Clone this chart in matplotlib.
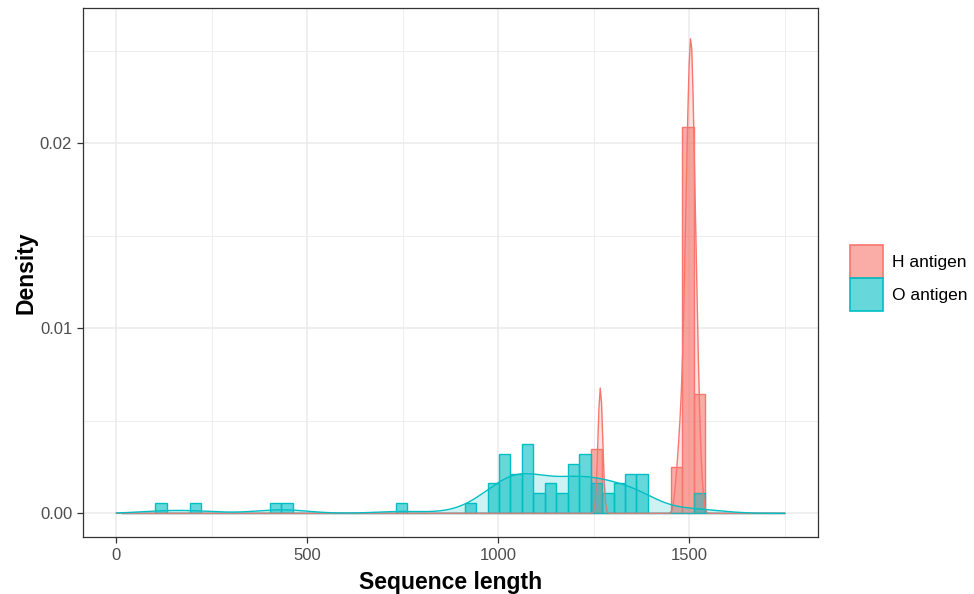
import numpy as np
import matplotlib
matplotlib.use("Agg")
import matplotlib.pyplot as plt
from matplotlib.colors import to_rgba
from matplotlib.patches import Patch

plt.rcParams['font.family'] = ['Liberation Sans', 'DejaVu Sans']

# sequence lengths per antigen type
groups = ["H antigen", "O antigen"]
colors = ["#F8766D", "#00BFC4"]

h_lengths = [
    1264, 1266, 1267, 1267, 1268, 1269, 1271,
    1466, 1472, 1476, 1478, 1481,
    1483, 1485, 1487, 1488, 1490, 1490, 1491, 1492, 1493, 1494,
    1494, 1495, 1496, 1496, 1497, 1498, 1498, 1499, 1500, 1500,
    1501, 1502, 1502, 1503, 1503, 1504, 1504, 1504, 1505, 1505,
    1506, 1506, 1507, 1508, 1508, 1509, 1509, 1510, 1510, 1511,
    1511, 1511,
    1513, 1514, 1515, 1516, 1517, 1518, 1519, 1520, 1521, 1522,
    1524, 1527, 1532,
]

o_lengths = [
    118, 207, 417, 447, 747, 927,
    978, 987, 995,
    1005, 1011, 1017, 1020, 1024, 1029,
    1038, 1044, 1051, 1058,
    1064, 1068, 1072, 1077, 1080, 1085, 1089,
    1098, 1112,
    1128, 1137, 1146,
    1160, 1174,
    1185, 1191, 1197, 1203, 1209,
    1215, 1220, 1226, 1230, 1234, 1239,
    1248, 1256, 1265,
    1280, 1293,
    1308, 1317, 1326,
    1336, 1343, 1350, 1357,
    1366, 1373, 1380, 1387,
    1518, 1527,
]

x_ticks = [0, 500, 1000, 1500]
x_minor = [250, 750, 1250, 1750]
y_ticks = [0.00, 0.01, 0.02]
y_tick_labels = ["0.00", "0.01", "0.02"]
y_minor = [0.005, 0.015, 0.025]

bin_width = 30
bin_start = 12
x_range = (0, 1750)


def nrd0(x):
    # Silverman's rule of thumb, same as R's bw.nrd0
    x = np.asarray(x, dtype=float)
    sd = x.std(ddof=1)
    q75, q25 = np.percentile(x, [75, 25])
    lo = min(sd, (q75 - q25) / 1.34)
    return 0.9 * lo * len(x) ** -0.2


def kde(x, grid):
    x = np.asarray(x, dtype=float)
    bw = nrd0(x)
    z = (grid[:, None] - x[None, :]) / bw
    return np.exp(-0.5 * z ** 2).sum(axis=1) / (len(x) * bw * np.sqrt(2 * np.pi))


data = [h_lengths, o_lengths]
edges = np.arange(bin_start, x_range[1] + bin_width, bin_width)
grid = np.linspace(x_range[0], x_range[1], 512)

fig = plt.figure(figsize=(9.74, 5.94), dpi=100)
ax = fig.add_axes([83 / 974, 57 / 594, 735 / 974, 529 / 594])

for values, color in zip(data, colors):
    ax.hist(values, bins=edges, density=True,
            facecolor=to_rgba(color, 0.6), edgecolor=color,
            linewidth=1.0, zorder=2)

for values, color in zip(data, colors):
    dens = kde(values, grid)
    ax.fill_between(grid, dens, color=color, alpha=0.2, linewidth=0, zorder=3)
    ax.plot(grid, dens, color=color, linewidth=1.0, zorder=3)

ax.set_xlim(-87.5, 1837.5)
ax.set_ylim(-0.00128, 0.0273)

ax.set_xticks(x_ticks)
ax.set_xticks(x_minor, minor=True)
ax.set_yticks(y_ticks)
ax.set_yticklabels(y_tick_labels)
ax.set_yticks(y_minor, minor=True)

ax.grid(which='major', color='#EBEBEB', linewidth=1.1, zorder=0)
ax.grid(which='minor', color='#EBEBEB', linewidth=0.6, zorder=0)
ax.set_axisbelow(True)

for spine in ax.spines.values():
    spine.set_color('#333333')
    spine.set_linewidth(0.9)

ax.tick_params(which='major', length=4.3, width=0.9, color='#333333',
               labelcolor='#4D4D4D', labelsize=12)
ax.tick_params(which='minor', length=0)

ax.set_xlabel("Sequence length", fontsize=16.5, fontweight='bold', labelpad=6)
ax.set_ylabel("Density", fontsize=16.5, fontweight='bold', labelpad=2)

handles = [Patch(facecolor=to_rgba(c, 0.6), edgecolor=c, linewidth=1.2) for c in colors]
fig.legend(handles, groups, loc='center left',
           bbox_to_anchor=(850 / 974, 1 - 278 / 594),
           frameon=False, fontsize=12.5,
           handlelength=1.9, handleheight=2.55,
           labelspacing=0, handletextpad=0.5,
           borderpad=0, borderaxespad=0)

fig.savefig("out.png", dpi=100)
